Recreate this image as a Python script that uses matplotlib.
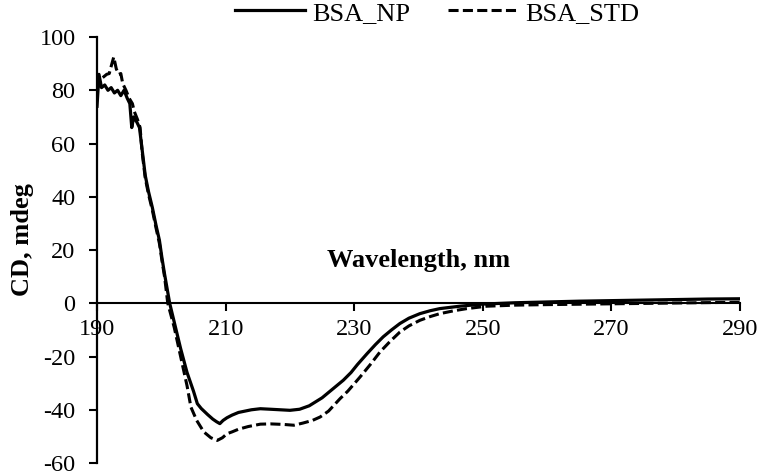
import matplotlib
matplotlib.use("Agg")
import matplotlib.pyplot as plt

plt.rcParams['font.family'] = ['Liberation Serif', 'DejaVu Serif']
plt.rcParams['font.size'] = 17.5
plt.rcParams['axes.unicode_minus'] = False

# CD spectrum, nanoparticle-bound BSA
wl_np = [190.0, 190.3, 190.7, 191.2, 191.7, 192.2, 192.7, 193.2, 193.7, 194.2,
         194.7, 195.1, 195.4, 195.7, 196.2, 196.6, 197.0, 197.5, 198.0, 198.6,
         199.2, 199.7, 200.1, 200.5, 200.9, 201.3, 202.0, 203.0, 204.0, 205.0,
         205.6, 206.2, 207.2, 208.0, 208.6, 209.1, 209.6, 210.2, 211.0, 212.0,
         213.0, 214.0, 215.4, 217.0, 218.5, 220.0, 221.5, 223.0, 224.0, 225.0,
         226.0, 227.0, 228.3, 229.5, 230.5, 232.0, 233.3, 234.5, 235.8, 237.1,
         238.5, 240.2, 241.8, 243.3, 246.4, 250.0, 255.0, 260.0, 265.0, 270.0,
         275.0, 280.0, 285.0, 290.0]
cd_np = [74, 86, 81, 82, 80, 81, 79, 80, 78, 80,
         77, 75, 66, 70, 68, 66, 58, 48, 42, 36,
         29, 23.7, 17, 11, 5.5, 0, -7, -17, -26, -33,
         -37.7, -39.5, -41.8, -43.5, -44.5, -45.2, -44, -43, -42, -41,
         -40.5, -40, -39.6, -39.8, -40, -40.2, -39.8, -38.5, -37, -35.5,
         -33.5, -31.5, -28.9, -26, -23, -18.9, -15.5, -12.6, -10, -7.6,
         -5.6, -3.9, -2.8, -2, -1.1, -0.3, 0.2, 0.5, 0.8, 1.0,
         1.2, 1.4, 1.6, 1.7]

# CD spectrum, BSA standard
wl_std = [190.0, 190.5, 191.0, 191.5, 191.9, 192.2, 192.6, 193.0, 193.4, 193.7,
          194.0, 194.5, 195.0, 195.5, 195.8, 196.3, 196.7, 197.0, 197.5, 198.0,
          198.6, 199.2, 199.7, 200.1, 200.5, 201.0, 202.0, 203.0, 204.0, 204.6,
          205.5, 206.6, 207.7, 208.7, 209.5, 210.2, 211.0, 212.0, 213.5, 215.4,
          217.0, 219.0, 220.6, 222.0, 223.5, 224.7, 226.0, 227.8, 229.0, 230.9,
          232.5, 234.0, 235.5, 237.1, 238.5, 240.2, 241.8, 243.3, 245.5, 247.5,
          250.6, 255.0, 260.0, 270.0, 280.0, 290.0]
cd_std = [80, 84, 85, 86, 86.3, 89, 92.5, 88, 86, 86.3,
          82.5, 80, 77, 75, 72, 69, 66, 57, 47, 41,
          35, 28, 22.5, 16, 10, 0, -9, -20, -31, -39,
          -44, -48.3, -50.5, -51.5, -50.5, -49, -48.3, -47.3, -46.3, -45.4,
          -45.3, -45.5, -45.8, -45, -44, -42.7, -40.5, -35.8, -33, -27.7,
          -23, -18.3, -14.5, -10.8, -8.5, -6.4, -5, -3.9, -2.8, -2,
          -1.1, -0.7, -0.5, -0.2, 0.1, 0.4]

x_ticks = [190, 210, 230, 250, 270, 290]
y_ticks = [-60, -40, -20, 0, 20, 40, 60, 80, 100]

fig = plt.figure(figsize=(7.61, 4.72), dpi=100)
ax = fig.add_axes([0.1275, 0.019, 0.845, 0.9025])

ax.plot(wl_np, cd_np, color='black', lw=2.3, label='BSA_NP')
ax.plot(wl_std, cd_std, color='black', lw=2.2, dashes=(3.3, 1.4), label='BSA_STD')

ax.set_xlim(190, 290)
ax.set_ylim(-60, 100)
ax.set_xticks(x_ticks)
ax.set_yticks(y_ticks)

ax.spines['top'].set_visible(False)
ax.spines['right'].set_visible(False)
ax.spines['bottom'].set_position(('data', 0))
ax.spines['bottom'].set_linewidth(1.5)
ax.spines['left'].set_linewidth(1.6)
ax.tick_params(axis='both', direction='out', length=5.5, width=1.5)
ax.tick_params(axis='x', pad=6)
ax.tick_params(axis='y', pad=10)

fig.text(22 / 761, 1 - 240 / 472, 'CD, mdeg', rotation=90, ha='center', va='center',
         fontweight='bold', fontsize=19)
ax.text(0.5, 13.6, 'Wavelength, nm', transform=ax.get_yaxis_transform(),
        ha='center', va='baseline', fontweight='bold', fontsize=19)

fig.legend(loc='upper left', bbox_to_anchor=(0.295, 1.02), ncol=2, fontsize=19,
           frameon=False, borderaxespad=0, handlelength=2.65, columnspacing=1.44,
           handletextpad=0.27)

fig.savefig('out.png', dpi=100)
